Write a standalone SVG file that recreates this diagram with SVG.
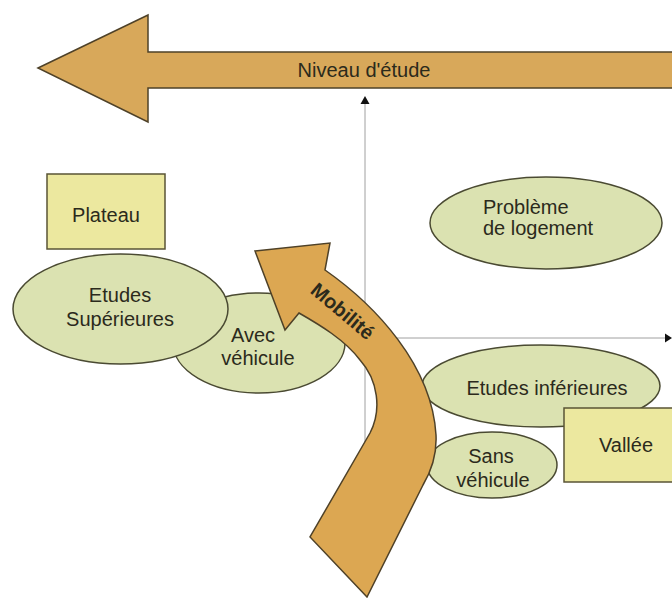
<svg xmlns="http://www.w3.org/2000/svg" width="672" height="598" viewBox="0 0 672 598">
<defs>
<style>
.arrow{fill:#d8a85a;stroke:#4e4128;stroke-width:1.5;stroke-linejoin:miter}
.ell{fill:#dbe2b1;stroke:#4a4a32;stroke-width:1.5}
.box{fill:#ece89f;stroke:#5a5436;stroke-width:1.5}
.axis{stroke:#a0a0a0;stroke-width:1;fill:none}
.lbl{font-family:"Liberation Sans",Arial,sans-serif;font-size:20px;fill:#2b2a1c}
.mid{text-anchor:middle}
</style>
</defs>
<rect width="672" height="598" fill="#ffffff"/>

<g id="niveau-etude">
<path class="arrow" d="M38,68 L148,15 L148,52 L680,52 L680,88 L148,88 L148,122 Z"/>
<text class="lbl mid" x="364" y="77">Niveau d'étude</text>
</g>

<g id="connectors">
<line class="axis" x1="365" y1="103" x2="365" y2="560"/>
<path d="M365,96 L360.5,104 L369.5,104 Z" fill="#111"/>
<line class="axis" x1="365" y1="338" x2="666" y2="338"/>
<path d="M672,338 L665,333.5 L665,342.5 Z" fill="#111"/>
</g>

<g id="plateau">
<rect class="box" x="47" y="174" width="118" height="75"/>
<text class="lbl mid" x="106" y="222">Plateau</text>
</g>

<g id="avec-vehicule">
<ellipse class="ell" cx="259" cy="343" rx="86" ry="50"/>
<text class="lbl mid" x="253" y="342">Avec</text>
<text class="lbl mid" x="258" y="365">véhicule</text>
</g>

<g id="etudes-superieures">
<ellipse class="ell" cx="120.5" cy="309" rx="107.5" ry="55"/>
<text class="lbl mid" x="120" y="302">Etudes</text>
<text class="lbl mid" x="120" y="326">Supérieures</text>
</g>

<g id="probleme-logement">
<ellipse class="ell" cx="546" cy="223" rx="116" ry="46"/>
<text class="lbl" x="483" y="214">Problème</text>
<text class="lbl" x="483" y="235">de logement</text>
</g>

<g id="etudes-inferieures">
<ellipse class="ell" cx="541" cy="386" rx="119" ry="41"/>
<text class="lbl mid" x="547" y="395">Etudes inférieures</text>
</g>

<g id="vallee">
<rect class="box" x="564" y="408" width="120" height="74"/>
<text class="lbl mid" x="626" y="452">Vallée</text>
</g>

<g id="sans-vehicule">
<ellipse class="ell" cx="492" cy="465" rx="65" ry="33"/>
<text class="lbl mid" x="491" y="463">Sans</text>
<text class="lbl mid" x="493" y="487">véhicule</text>
</g>

<g id="mobilite">
<path class="arrow" style="fill:#dca752" d="M255,251 L330,243 L325,270 C375,305 432,365 436,435 C437,455 432,470 423,485 L367,597 L310,537 L370,433 C382,410 378,380 360,360 C345,340 320,325 299,313 L285,330 Z"/>
<text class="lbl mid" x="342" y="318" font-size="18" font-weight="bold" fill="#2a2414" transform="rotate(40 342 312)">Mobilité</text>
</g>
</svg>
